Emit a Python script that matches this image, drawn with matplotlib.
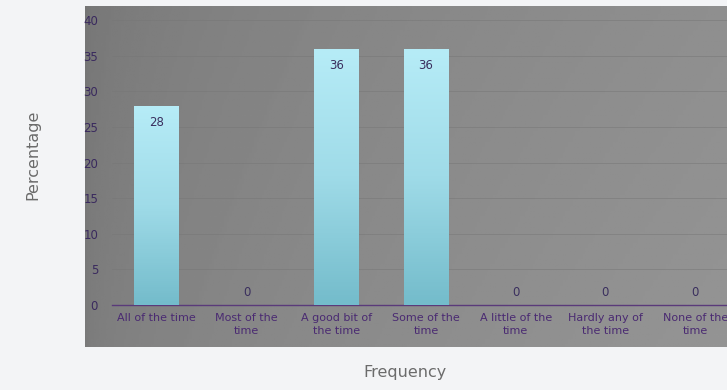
import numpy as np
import matplotlib
matplotlib.use('Agg')
from matplotlib import pyplot as plt
from matplotlib.colors import LinearSegmentedColormap

categories = ['All of the time', 'Most of the\ntime', 'A good bit of\nthe time', 'Some of the\ntime',
              'A little of the\ntime', 'Hardly any of\nthe time', 'None of the\ntime']
values = [28, 0, 36, 36, 0, 0, 0]
yticks = [0, 5, 10, 15, 20, 25, 30, 35, 40]

W, H = 727, 390
fig = plt.figure(figsize=(W / 100, H / 100), dpi=100)
fig.patch.set_facecolor('#f3f4f6')

# gray gradient panel behind the plot
panel = fig.add_axes([85 / W, 1 - 347 / H, (W - 85) / W, (347 - 6) / H])
gx = np.linspace(0, 1, 256)
gy = np.linspace(0, 1, 64)[:, None]
grad = 0.46 + 0.10 * np.sqrt(gx[None, :]) + 0.02 * gy
panel.imshow(grad, cmap='gray', vmin=0, vmax=1, aspect='auto', extent=[0, 1, 0, 1])
panel.set_axis_off()

ax = fig.add_axes([112 / W, 1 - 305 / H, 628 / W, 285 / H])
ax.patch.set_alpha(0)
x = np.arange(len(categories))
ax.set_xlim(-0.5, len(categories) - 0.5)
ax.set_ylim(0, 40)

bar_cmap = LinearSegmentedColormap.from_list('bar', ['#74bccb', '#9fdbe8', '#b6ecf7'])
bars = ax.bar(x, values, width=0.5, color='none', edgecolor='none', zorder=3)
for b, v in zip(bars, values):
    if v > 0:
        im = ax.imshow(np.linspace(0, 1, 100)[:, None], cmap=bar_cmap, origin='lower', aspect='auto',
                       extent=[b.get_x(), b.get_x() + b.get_width(), 0, v], zorder=3)
        im.set_clip_path(b)
        ax.text(b.get_x() + b.get_width() / 2, v - 1.5, str(v), ha='center', va='top',
                fontsize=8.5, color='#3a2f5e', zorder=4)
    else:
        ax.text(b.get_x() + b.get_width() / 2, 0.8, str(v), ha='center', va='bottom',
                fontsize=8.5, color='#3a2f5e', zorder=4)

ax.set_yticks(yticks)
ax.set_yticklabels([str(t) for t in yticks], fontsize=8.5, color='#3a2a5e')
ax.set_xticks(x)
ax.set_xticklabels(categories, fontsize=8, color='#4a2a72', linespacing=1.3)
ax.tick_params(axis='both', length=0)
ax.tick_params(axis='y', pad=10)
ax.tick_params(axis='x', pad=6)
ax.grid(axis='y', color='#777777', linewidth=0.6, alpha=0.6, zorder=0)
for s in ['top', 'right', 'left']:
    ax.spines[s].set_visible(False)
ax.spines['bottom'].set_color('#5a3a7a')
ax.spines['bottom'].set_linewidth(1.0)

fig.text(33 / W, 1 - 155 / H, 'Percentage', rotation=90, ha='center', va='center',
         fontsize=11.5, color='#6b6b6b')
fig.text(405 / W, 1 - 372 / H, 'Frequency', ha='center', va='center',
         fontsize=11.5, color='#6b6b6b')

fig.savefig('out.png', dpi=100)
